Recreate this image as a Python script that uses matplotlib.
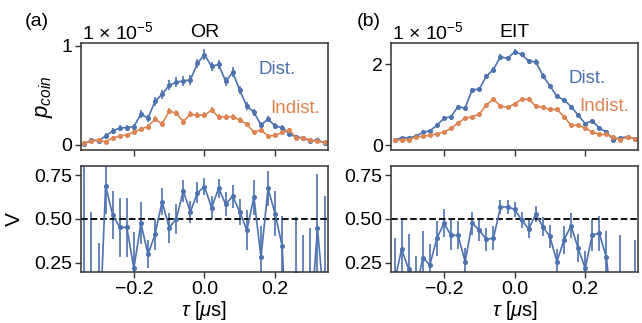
import matplotlib
matplotlib.use('Agg')
import matplotlib.pyplot as plt

plt.rcParams['font.family'] = ['Liberation Sans', 'DejaVu Sans']
plt.rcParams['mathtext.fontset'] = 'custom'
plt.rcParams['mathtext.rm'] = 'Liberation Sans'
plt.rcParams['mathtext.it'] = 'Liberation Sans:italic'
plt.rcParams['mathtext.bf'] = 'Liberation Sans:bold'
plt.rcParams['font.size'] = 14
plt.rcParams['axes.linewidth'] = 1.1
plt.rcParams['axes.edgecolor'] = '#333333'

BLUE = '#4C72B0'
ORANGE = '#DD8452'

# delay grid (us)
tau = [-0.34, -0.32, -0.30, -0.28, -0.26, -0.24, -0.22, -0.20, -0.18, -0.16,
       -0.14, -0.12, -0.10, -0.08, -0.06, -0.04, -0.02, 0.00, 0.02, 0.04,
       0.06, 0.08, 0.10, 0.12, 0.14, 0.16, 0.18, 0.20, 0.22, 0.24,
       0.26, 0.28, 0.30, 0.32, 0.34]

# coincidence probabilities, units of 1e-5
or_dist = [0.01, 0.05, 0.04, 0.09, 0.14, 0.17, 0.175, 0.185, 0.31, 0.27,
           0.44, 0.51, 0.60, 0.63, 0.645, 0.655, 0.82, 0.91, 0.79, 0.81,
           0.64, 0.73, 0.55, 0.39, 0.33, 0.20, 0.26, 0.19, 0.175, 0.11,
           0.08, 0.07, 0.04, 0.05, 0.02]
or_dist_err = [0.02, 0.02, 0.02, 0.025, 0.03, 0.03, 0.03, 0.03, 0.04, 0.035,
               0.045, 0.045, 0.05, 0.05, 0.05, 0.05, 0.05, 0.055, 0.05, 0.05,
               0.045, 0.05, 0.04, 0.04, 0.035, 0.03, 0.03, 0.03, 0.03, 0.025,
               0.02, 0.02, 0.02, 0.02, 0.02]
or_ind = [0.02, 0.04, 0.05, 0.03, 0.07, 0.09, 0.10, 0.13, 0.16, 0.185,
          0.26, 0.21, 0.34, 0.32, 0.235, 0.31, 0.30, 0.30, 0.35, 0.28,
          0.285, 0.285, 0.25, 0.21, 0.125, 0.15, 0.09, 0.095, 0.125, 0.15,
          0.07, 0.07, 0.05, 0.035, 0.025]
or_ind_err = [0.015, 0.015, 0.02, 0.02, 0.02, 0.02, 0.02, 0.025, 0.025, 0.025,
              0.03, 0.03, 0.03, 0.03, 0.03, 0.03, 0.03, 0.03, 0.03, 0.03,
              0.03, 0.03, 0.03, 0.025, 0.025, 0.025, 0.02, 0.02, 0.02, 0.02,
              0.02, 0.02, 0.015, 0.015, 0.015]

eit_dist = [0.125, 0.19, 0.19, 0.225, 0.32, 0.36, 0.50, 0.67, 0.71, 0.96,
            0.92, 1.375, 1.39, 1.71, 1.875, 2.19, 2.15, 2.31, 2.25, 2.08,
            2.07, 1.725, 1.475, 1.21, 1.125, 0.96, 0.75, 0.54, 0.61, 0.43,
            0.33, 0.14, 0.19, 0.21, 0.17]
eit_dist_err = [0.03, 0.03, 0.03, 0.035, 0.035, 0.04, 0.04, 0.045, 0.045, 0.05,
                0.05, 0.055, 0.055, 0.06, 0.06, 0.065, 0.065, 0.065, 0.065, 0.06,
                0.06, 0.06, 0.055, 0.05, 0.05, 0.05, 0.045, 0.04, 0.04, 0.04,
                0.035, 0.03, 0.03, 0.03, 0.03]
eit_ind = [0.125, 0.14, 0.14, 0.21, 0.225, 0.25, 0.29, 0.33, 0.42, 0.56,
           0.67, 0.71, 0.77, 1.0, 1.14, 0.975, 0.94, 1.025, 1.14, 1.14,
           0.975, 0.94, 0.89, 0.89, 0.71, 0.50, 0.50, 0.43, 0.33, 0.275,
           0.27, 0.21, 0.14, 0.21, 0.17]
eit_ind_err = [0.025, 0.025, 0.025, 0.03, 0.03, 0.03, 0.03, 0.035, 0.035, 0.04,
               0.04, 0.04, 0.045, 0.045, 0.05, 0.045, 0.045, 0.045, 0.05, 0.05,
               0.045, 0.045, 0.045, 0.045, 0.04, 0.035, 0.035, 0.035, 0.03, 0.03,
               0.03, 0.025, 0.025, 0.025, 0.025]

# visibility
or_v = [0.0, 0.0, -0.30, 0.69, 0.523, 0.452, 0.452, 0.218, 0.475, 0.298,
        0.412, 0.60, 0.45, 0.50, 0.66, 0.54, 0.65, 0.685, 0.565, 0.675,
        0.585, 0.63, 0.54, 0.435, 0.625, 0.28, 0.675, 0.53, 0.345, -0.5,
        0.19, 0.0, -0.11, 0.447, -0.01]
or_v_err = [0.9, 0.54, 0.66, 0.16, 0.14, 0.17, 0.17, 0.21, 0.12, 0.08,
            0.09, 0.075, 0.085, 0.085, 0.065, 0.065, 0.06, 0.05, 0.065, 0.055,
            0.07, 0.065, 0.075, 0.115, 0.10, 0.18, 0.10, 0.13, 0.17, 0.3,
            0.32, 0.41, 0.56, 0.31, 0.64]
eit_v = [0.141, 0.327, 0.212, 0.08, 0.279, 0.237, 0.389, 0.475, 0.408, 0.406,
         0.256, 0.475, 0.437, 0.384, 0.39, 0.567, 0.57, 0.555, 0.494, 0.443,
         0.528, 0.456, 0.40, 0.256, 0.38, 0.462, 0.332, 0.218, 0.408, 0.418,
         0.28, -0.1, -0.05, -0.2, -0.05]
eit_v_err = [0.25, 0.17, 0.2, 0.21, 0.15, 0.12, 0.1, 0.08, 0.085, 0.08,
             0.08, 0.065, 0.065, 0.065, 0.07, 0.04, 0.04, 0.045, 0.045, 0.05,
             0.045, 0.055, 0.065, 0.07, 0.08, 0.07, 0.08, 0.1, 0.09, 0.1,
             0.15, 0.2, 0.46, 0.3, 0.43]

fig = plt.figure(figsize=(6.42, 3.23), dpi=100)
ax_or = fig.add_axes([0.126, 0.536, 0.385, 0.332])
ax_eit = fig.add_axes([0.609, 0.536, 0.385, 0.332])
ax_or_v = fig.add_axes([0.126, 0.157, 0.385, 0.330])
ax_eit_v = fig.add_axes([0.609, 0.157, 0.385, 0.330])

eb = dict(marker='o', ms=2.6, lw=1.2, elinewidth=1.2, capsize=0)

def style(ax):
    ax.set_xlim(-0.35, 0.35)
    ax.set_xticks([-0.2, 0.0, 0.2])
    ax.tick_params(direction='out', length=4, width=1.0, color='#333333',
                   labelsize=14, pad=2, top=False, right=False)

# top panels
for ax, d, de, i, ie, title, ylim, yt in [
        (ax_or, or_dist, or_dist_err, or_ind, or_ind_err, 'OR', (-0.05, 1.03), [0, 1]),
        (ax_eit, eit_dist, eit_dist_err, eit_ind, eit_ind_err, 'EIT', (-0.11, 2.54), [0, 2])]:
    ax.errorbar(tau, d, yerr=de, color=BLUE, **eb)
    ax.errorbar(tau, i, yerr=ie, color=ORANGE, **eb)
    style(ax)
    ax.set_ylim(*ylim)
    ax.set_yticks(yt)
    ax.set_xticklabels([])
    ax.set_title(title, fontsize=14, pad=4)
    ax.text(0.005, 1.0, '1 × 10$^{\\mathdefault{−5}}$', transform=ax.transAxes,
            ha='left', va='bottom', fontsize=14)

ax_or.text(0.72, 0.745, 'Dist.', color=BLUE, transform=ax_or.transAxes,
           ha='left', va='center', fontsize=13.5)
ax_or.text(0.765, 0.39, 'Indist.', color=ORANGE, transform=ax_or.transAxes,
           ha='left', va='center', fontsize=13.5)
ax_eit.text(0.717, 0.663, 'Dist.', color=BLUE, transform=ax_eit.transAxes,
            ha='left', va='center', fontsize=13.5)
ax_eit.text(0.76, 0.40, 'Indist.', color=ORANGE, transform=ax_eit.transAxes,
            ha='left', va='center', fontsize=13.5)
ax_or.set_ylabel(r'$p_{coin}$', fontsize=16)
ax_or.yaxis.set_label_coords(-0.105, 0.5)

# bottom panels
for ax, v, ve in [(ax_or_v, or_v, or_v_err), (ax_eit_v, eit_v, eit_v_err)]:
    ax.errorbar(tau, v, yerr=ve, color=BLUE, **eb)
    ax.axhline(0.5, color='black', ls='--', lw=1.3)
    style(ax)
    ax.set_ylim(0.195, 0.805)
    ax.set_yticks([0.25, 0.5, 0.75])
    ax.set_xlabel(r'$\tau$ [$\mu$s]', fontsize=14.5, labelpad=1)

ax_or_v.set_ylabel('V', fontsize=15)
ax_or_v.yaxis.set_label_coords(-0.231, 0.5)

fig.text(0.039, 0.932, '(a)', ha='left', va='center', fontsize=14)
fig.text(0.555, 0.932, '(b)', ha='left', va='center', fontsize=14)

fig.savefig('out.png', dpi=100)
